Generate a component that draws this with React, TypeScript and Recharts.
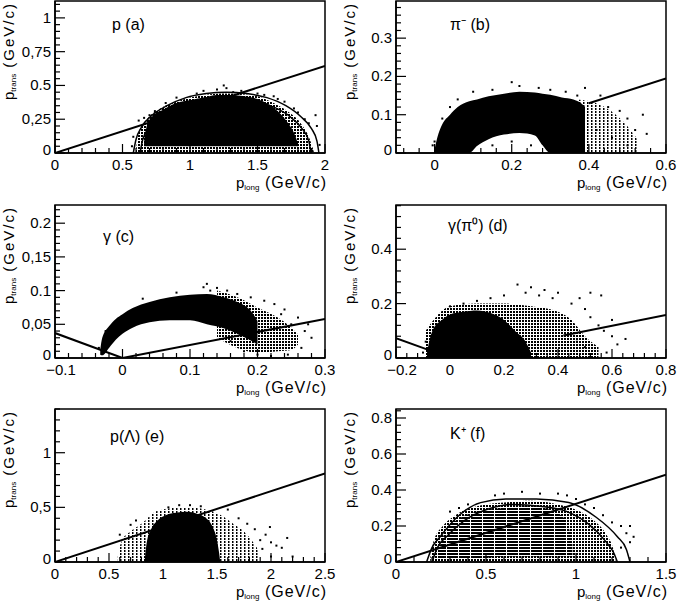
import React from "react";
import {
  ComposedChart,
  XAxis,
  YAxis,
  Area,
  Line,
  Scatter,
  ReferenceArea,
} from "recharts";

type Pt = [number, number];
type Band = [number, number, number]; // x, low, high

// ---------- (a) p
const aXMajor = [0, 0.5, 1, 1.5, 2];
const aXLabels = ["0", "0.5", "1", "1.5", "2"];
const aYMajor = [0, 0.25, 0.5, 0.75, 1];
const aYLabels = ["0", "0,25", "0.5", "0,75", "1"];
const aCore: Band[] = [
  [0.66, 0.05, 0.08], [0.68, 0.05, 0.2], [0.72, 0.05, 0.27], [0.8, 0.05, 0.32],
  [0.9, 0.05, 0.37], [1.0, 0.05, 0.39], [1.1, 0.05, 0.41], [1.2, 0.05, 0.43],
  [1.3, 0.05, 0.43], [1.4, 0.05, 0.42], [1.5, 0.05, 0.4], [1.58, 0.05, 0.36],
  [1.66, 0.05, 0.3], [1.72, 0.05, 0.23], [1.77, 0.05, 0.15], [1.8, 0.05, 0.07],
];
const aHatch: Band[] = [
  [0.6, 0, 0.02], [0.62, 0, 0.15], [0.68, 0, 0.25], [0.78, 0, 0.33],
  [0.9, 0, 0.38], [1.05, 0, 0.42], [1.25, 0, 0.44], [1.45, 0, 0.43],
  [1.6, 0, 0.38], [1.72, 0, 0.31], [1.82, 0, 0.22], [1.88, 0, 0.12], [1.92, 0, 0],
];
const aDots: Pt[] = [
  [0.62, 0.24], [0.66, 0.26], [0.7, 0.28], [0.74, 0.31], [0.82, 0.37], [0.9, 0.41],
  [1.05, 0.44], [1.1, 0.46], [1.2, 0.47], [1.25, 0.5], [1.27, 0.48], [1.32, 0.45],
  [1.38, 0.46], [1.5, 0.44], [1.55, 0.43], [1.62, 0.42], [1.65, 0.4], [1.7, 0.38],
  [1.77, 0.33], [1.8, 0.3], [1.85, 0.25], [1.88, 0.22], [1.93, 0.28], [1.94, 0.2],
  [1.96, 0.06], [1.9, 0.03], [0.57, 0.05], [0.58, 0.12],
];
const aCut: Pt[] = [[0, 0], [2, 0.645]];
const aRingOuter: Pt[] = [
  [0.58, 0], [0.6, 0.1], [0.64, 0.19], [0.72, 0.28], [0.83, 0.35], [0.97, 0.41],
  [1.12, 0.44], [1.27, 0.45], [1.42, 0.44], [1.57, 0.41], [1.71, 0.35], [1.82, 0.27],
  [1.9, 0.18], [1.94, 0.09], [1.955, 0],
];
const aRingInner: Pt[] = [
  [0.63, 0], [0.65, 0.1], [0.7, 0.19], [0.78, 0.27], [0.9, 0.34], [1.05, 0.39],
  [1.26, 0.41], [1.46, 0.39], [1.62, 0.34], [1.74, 0.27], [1.83, 0.18], [1.88, 0.09],
  [1.895, 0],
];

// ---------- (b) pi-
const bXMajor = [0, 0.2, 0.4, 0.6];
const bXLabels = ["0", "0.2", "0.4", "0.6"];
const bYMajor = [0, 0.1, 0.2, 0.3];
const bYLabels = ["0", "0.1", "0.2", "0.3"];
const bCore: Band[] = [
  [0.0, 0, 0.01], [0.01, 0, 0.05], [0.02, 0, 0.075], [0.04, 0, 0.1], [0.06, 0, 0.12],
  [0.09, 0, 0.135], [0.11, 0.018, 0.14], [0.14, 0.036, 0.148], [0.18, 0.048, 0.155],
  [0.22, 0.052, 0.16], [0.26, 0.046, 0.158], [0.28, 0.02, 0.155], [0.3, 0, 0.152],
  [0.33, 0, 0.145], [0.36, 0, 0.14], [0.38, 0, 0.13], [0.39, 0, 0.12],
];
const bHatch: Band[] = [
  [0.37, 0, 0.14], [0.42, 0, 0.13], [0.47, 0, 0.1], [0.5, 0, 0.07], [0.53, 0, 0.03],
];
const bDots: Pt[] = [
  [0.0, 0.03], [-0.005, 0.02], [0.02, 0.09], [0.04, 0.12], [0.06, 0.14], [0.1, 0.16],
  [0.15, 0.165], [0.2, 0.185], [0.22, 0.175], [0.27, 0.17], [0.3, 0.165], [0.34, 0.16],
  [0.37, 0.15], [0.39, 0.17], [0.43, 0.15], [0.45, 0.12], [0.48, 0.11], [0.5, 0.09],
  [0.52, 0.06], [0.55, 0.05], [0.5, 0.02], [0.46, 0.04], [0.42, 0.06], [0.54, 0.1],
  [0.15, 0.02], [0.2, 0.03], [0.25, 0.02],
];
const bCut: Pt[] = [[0.4, 0.13], [0.6, 0.195]];

// ---------- (c) gamma
const cXMajor = [-0.1, 0, 0.1, 0.2, 0.3];
const cXLabels = ["\u22120.1", "0", "0.1", "0.2", "0.3"];
const cYMajor = [0, 0.05, 0.1, 0.15, 0.2];
const cYLabels = ["0", "0,05", "0.1", "0,15", "0.2"];
const cCore: Band[] = [
  [-0.033, 0.005, 0.012], [-0.03, 0.004, 0.03], [-0.02, 0.015, 0.047],
  [-0.01, 0.027, 0.058], [0.0, 0.036, 0.065], [0.015, 0.045, 0.074],
  [0.04, 0.053, 0.083], [0.07, 0.056, 0.09], [0.1, 0.056, 0.094],
  [0.125, 0.05, 0.095], [0.15, 0.044, 0.09], [0.17, 0.036, 0.083],
  [0.19, 0.026, 0.07], [0.2, 0.02, 0.055],
];
const cHatch: Band[] = [
  [0.14, 0.03, 0.1], [0.17, 0.015, 0.09], [0.2, 0.008, 0.075], [0.23, 0.01, 0.06],
  [0.25, 0.012, 0.045], [0.26, 0.02, 0.035],
];
const cDots: Pt[] = [
  [0.12, 0.105], [0.125, 0.11], [0.13, 0.1], [0.14, 0.104], [0.155, 0.1], [0.17, 0.095],
  [0.19, 0.09], [0.21, 0.085], [0.225, 0.08], [0.24, 0.072], [0.26, 0.06], [0.27, 0.04],
  [0.28, 0.03], [0.265, 0.015], [0.245, 0.005], [0.22, 0.003], [0.2, 0.005], [0.25, 0.05],
  [0.235, 0.065], [0.275, 0.05], [0.18, 0.01], [0.16, 0.025], [-0.035, 0.015],
  [-0.025, 0.04], [0.03, 0.088], [0.08, 0.097],
];
const cCutLeft: Pt[] = [[-0.1, 0.037], [0, 0]];
const cCutRight: Pt[] = [[0, 0], [0.3, 0.058]];

// ---------- (d) gamma(pi0)
const dXMajor = [-0.2, 0, 0.2, 0.4, 0.6, 0.8];
const dXLabels = ["\u22120.2", "0", "0.2", "0.4", "0.6", "0.8"];
const dYMajor = [0, 0.2, 0.4];
const dYLabels = ["0", "0.2", "0.4"];
const dCore: Band[] = [
  [-0.085, 0, 0.02], [-0.075, 0, 0.07], [-0.06, 0, 0.11], [-0.03, 0, 0.14], [0, 0, 0.16],
  [0.05, 0, 0.17], [0.1, 0, 0.175], [0.15, 0, 0.165], [0.2, 0, 0.14], [0.24, 0, 0.1],
  [0.28, 0, 0.06], [0.3, 0, 0.02],
];
const dHatch: Band[] = [
  [-0.09, 0, 0.1], [0, 0, 0.19], [0.1, 0, 0.2], [0.2, 0, 0.2], [0.3, 0, 0.19],
  [0.4, 0, 0.17], [0.45, 0, 0.14], [0.5, 0, 0.08], [0.55, 0, 0.04],
];
const dDots: Pt[] = [
  [0.0, 0.19], [0.05, 0.2], [0.1, 0.21], [0.15, 0.22], [0.2, 0.23], [0.25, 0.27],
  [0.28, 0.24], [0.3, 0.26], [0.33, 0.23], [0.35, 0.25], [0.38, 0.22], [0.4, 0.24],
  [0.45, 0.2], [0.48, 0.22], [0.5, 0.18], [0.52, 0.15], [0.55, 0.12], [0.57, 0.1],
  [0.6, 0.14], [0.6, 0.08], [0.62, 0.05], [0.65, 0.07], [0.52, 0.24], [0.56, 0.23],
  [0.5, 0.04], [0.47, 0.06], [-0.1, 0.02], [-0.09, 0.06], [0.58, 0.02],
];
const dCutLeft: Pt[] = [[-0.2, 0.073], [-0.07, 0.026]];
const dCutRight: Pt[] = [[0.42, 0.083], [0.8, 0.158]];

// ---------- (e) p(Lambda)
const eXMajor = [0, 0.5, 1, 1.5, 2, 2.5];
const eXLabels = ["0", "0.5", "1", "1.5", "2", "2.5"];
const eYMajor = [0, 0.5, 1];
const eYLabels = ["0", "0,5", "1"];
const eCore: Band[] = [
  [0.83, 0, 0], [0.85, 0, 0.18], [0.89, 0, 0.3], [0.95, 0, 0.38], [1.03, 0, 0.43],
  [1.12, 0, 0.45], [1.22, 0, 0.46], [1.32, 0, 0.44], [1.4, 0, 0.4], [1.46, 0, 0.32],
  [1.5, 0, 0.2], [1.52, 0, 0.08], [1.53, 0, 0],
];
const eHatch: Band[] = [
  [0.58, 0, 0.05], [0.62, 0, 0.2], [0.7, 0, 0.28], [0.8, 0, 0.35], [0.95, 0, 0.47],
  [1.2, 0, 0.5], [1.4, 0, 0.48], [1.55, 0, 0.42], [1.65, 0, 0.35], [1.75, 0, 0.28],
  [1.82, 0, 0.2], [1.88, 0, 0.1], [1.9, 0, 0],
];
const eDots: Pt[] = [
  [1.9, 0.2], [1.95, 0.25], [2.0, 0.18], [2.05, 0.15], [2.1, 0.13], [2.2, 0.05],
  [2.15, 0.22], [1.85, 0.3], [1.78, 0.35], [1.7, 0.4], [1.6, 0.48], [1.05, 0.5],
  [1.15, 0.52], [1.25, 0.52], [1.35, 0.51], [0.75, 0.38], [0.7, 0.34], [0.6, 0.25],
  [1.99, 0.32], [2.0, 0.05], [1.92, 0.12],
];
const eCut: Pt[] = [[0, 0], [2.5, 0.81]];

// ---------- (f) K+
const fXMajor = [0, 0.5, 1, 1.5];
const fXLabels = ["0", "0.5", "1", "1.5"];
const fYMajor = [0, 0.2, 0.4, 0.6, 0.8];
const fYLabels = ["0", "0.2", "0.4", "0.6", "0.8"];
const fCore: Band[] = [
  [0.24, 0.02, 0.08], [0.28, 0.02, 0.18], [0.35, 0.02, 0.24], [0.45, 0.02, 0.28],
  [0.6, 0.03, 0.3], [0.75, 0.03, 0.31], [0.88, 0.03, 0.28], [0.95, 0.03, 0.22],
  [0.98, 0.03, 0.1],
];
const fHatch: Band[] = [
  [0.19, 0, 0.02], [0.21, 0, 0.12], [0.26, 0, 0.2], [0.33, 0, 0.26], [0.45, 0, 0.31],
  [0.6, 0, 0.33], [0.75, 0, 0.34], [0.9, 0, 0.32], [1.0, 0, 0.29], [1.1, 0, 0.23],
  [1.17, 0, 0.15], [1.21, 0, 0.06], [1.22, 0, 0],
];
const fDots: Pt[] = [
  [0.55, 0.37], [0.6, 0.38], [0.7, 0.39], [0.8, 0.38], [0.9, 0.38], [0.95, 0.37],
  [1.0, 0.35], [1.1, 0.3], [1.15, 0.26], [1.2, 0.22], [1.25, 0.2], [1.28, 0.16],
  [1.3, 0.2], [1.32, 0.14], [1.3, 0.11], [1.25, 0.08], [0.4, 0.32], [0.35, 0.3],
  [0.3, 0.28], [1.05, 0.32],
];
const fCut: Pt[] = [[0, 0], [1.5, 0.485]];
const fRingOuter: Pt[] = [
  [0.17, 0], [0.2, 0.08], [0.245, 0.14], [0.34, 0.25], [0.47, 0.33], [0.61, 0.35],
  [0.78, 0.35], [0.96, 0.33], [1.11, 0.25], [1.23, 0.14], [1.28, 0.07], [1.3, 0],
];
const fRingInner: Pt[] = [
  [0.2, 0], [0.23, 0.08], [0.29, 0.15], [0.38, 0.23], [0.5, 0.29], [0.65, 0.32],
  [0.8, 0.31], [0.95, 0.28], [1.07, 0.21], [1.16, 0.12], [1.21, 0.05], [1.23, 0],
];

const FONT = "'Liberation Sans', Arial, Helvetica, sans-serif";
const Y_AXIS_W = 40;
const X_AXIS_H = 30;

const COLS = [
  { left: 0, plotL: 55, plotR: 325 },
  { left: 339, plotL: 396, plotR: 666 },
];
const ROWS = [
  { top: 0, h: 200, plotT: 1, plotB: 153 },
  { top: 200, h: 200, plotT: 205, plotB: 358 },
  { top: 400, h: 202, plotT: 409, plotB: 562 },
];

type HatchKind = "light" | "medium" | "dense";

type PanelDef = {
  id: string;
  col: number;
  row: number;
  xDomain: [number, number];
  yDomain: [number, number];
  xMajor: number[];
  xLabels: string[];
  yMajor: number[];
  yLabels: string[];
  core: Band[];
  coreFill: "solid" | HatchKind;
  hatch: Band[];
  hatchKind: HatchKind;
  dots: Pt[];
  cuts: Pt[][];
  rings: Pt[][];
  title: string;
  titleX: number;
  titleY: number;
};

const panels: PanelDef[] = [
  {
    id: "a", col: 0, row: 0, xDomain: [0, 2], yDomain: [0, 1.125],
    xMajor: aXMajor, xLabels: aXLabels, yMajor: aYMajor, yLabels: aYLabels,
    core: aCore, coreFill: "solid", hatch: aHatch, hatchKind: "medium", dots: aDots,
    cuts: [aCut], rings: [aRingOuter, aRingInner], title: "p (a)", titleX: 112, titleY: 30,
  },
  {
    id: "b", col: 1, row: 0, xDomain: [-0.1, 0.6], yDomain: [0, 0.397],
    xMajor: bXMajor, xLabels: bXLabels, yMajor: bYMajor, yLabels: bYLabels,
    core: bCore, coreFill: "solid", hatch: bHatch, hatchKind: "light", dots: bDots,
    cuts: [bCut], rings: [], title: "\u03c0\u207b (b)", titleX: 111, titleY: 30,
  },
  {
    id: "c", col: 0, row: 1, xDomain: [-0.1, 0.3], yDomain: [0, 0.227],
    xMajor: cXMajor, xLabels: cXLabels, yMajor: cYMajor, yLabels: cYLabels,
    core: cCore, coreFill: "solid", hatch: cHatch, hatchKind: "medium", dots: cDots,
    cuts: [cCutLeft, cCutRight], rings: [], title: "\u03b3 (c)", titleX: 103, titleY: 42,
  },
  {
    id: "d", col: 1, row: 1, xDomain: [-0.2, 0.8], yDomain: [0, 0.5625],
    xMajor: dXMajor, xLabels: dXLabels, yMajor: dYMajor, yLabels: dYLabels,
    core: dCore, coreFill: "solid", hatch: dHatch, hatchKind: "medium", dots: dDots,
    cuts: [dCutLeft, dCutRight], rings: [], title: "\u03b3(\u03c0\u2070) (d)", titleX: 109, titleY: 31,
  },
  {
    id: "e", col: 0, row: 2, xDomain: [0, 2.5], yDomain: [0, 1.4],
    xMajor: eXMajor, xLabels: eXLabels, yMajor: eYMajor, yLabels: eYLabels,
    core: eCore, coreFill: "solid", hatch: eHatch, hatchKind: "light", dots: eDots,
    cuts: [eCut], rings: [], title: "p(\u039b) (e)", titleX: 110, titleY: 42,
  },
  {
    id: "f", col: 1, row: 2, xDomain: [0, 1.5], yDomain: [0, 0.85],
    xMajor: fXMajor, xLabels: fXLabels, yMajor: fYMajor, yLabels: fYLabels,
    core: fCore, coreFill: "dense", hatch: fHatch, hatchKind: "medium", dots: fDots,
    cuts: [fCut], rings: [fRingOuter, fRingInner], title: "K\u207a (f)", titleX: 111, titleY: 39,
  },
];

// five minor divisions per major step, axis decoration only
function withMinor(major: number[], domain: [number, number]): number[] {
  const step = (major[1] - major[0]) / 5;
  const out: number[] = [];
  const first = major[0];
  let k = Math.ceil((domain[0] - first) / step - 1e-6);
  while (true) {
    const v = Math.round((first + k * step) * 1e6) / 1e6;
    if (v > domain[1] + 1e-9) break;
    out.push(v);
    k += 1;
  }
  return out;
}

const isMajor = (major: number[], v: number) =>
  major.findIndex((m) => Math.abs(m - v) < 1e-6);

const Dot = (p: any) => (
  <rect x={p.cx - 1} y={p.cy - 1} width={2} height={2} fill="#000" />
);

function Patterns({ id }: { id: string }) {
  return (
    <defs>
      <pattern id={`light-${id}`} width={4} height={3} patternUnits="userSpaceOnUse">
        <rect x={0} y={0} width={1.5} height={2} fill="#000" />
      </pattern>
      <pattern id={`medium-${id}`} width={3} height={3} patternUnits="userSpaceOnUse">
        <rect x={0} y={0} width={2} height={2} fill="#000" />
      </pattern>
      <pattern id={`dense-${id}`} width={4} height={3} patternUnits="userSpaceOnUse">
        <rect x={0} y={0} width={3} height={2} fill="#000" />
      </pattern>
    </defs>
  );
}

function Panel({ p }: { p: PanelDef }) {
  const c = COLS[p.col];
  const r = ROWS[p.row];
  const W = 339;
  const margin = {
    top: r.plotT - r.top,
    bottom: r.top + r.h - r.plotB - X_AXIS_H,
    left: c.plotL - c.left - Y_AXIS_W,
    right: c.left + W - c.plotR,
  };
  const pl = c.plotL - c.left;
  const pr = c.plotR - c.left;
  const pt = r.plotT - r.top;
  const pb = r.plotB - r.top;

  const xTicks = withMinor(p.xMajor, p.xDomain);
  const yTicks = withMinor(p.yMajor, p.yDomain);

  const xTick = (t: any) => {
    const i = isMajor(p.xMajor, t.payload.value);
    // a negative label at the left edge sits a little to the right
    const shift = i === 0 && p.xMajor[0] < 0 ? 6 : 0;
    return (
      <g>
        <line x1={t.x} x2={t.x} y1={t.y} y2={t.y - (i >= 0 ? 9 : 5)} stroke="#000" strokeWidth={1.2} />
        {i >= 0 && (
          <text x={t.x + shift} y={t.y + 17} textAnchor="middle" fontSize={15} fontFamily={FONT} fill="#000">
            {p.xLabels[i]}
          </text>
        )}
      </g>
    );
  };
  const yTick = (t: any) => {
    const i = isMajor(p.yMajor, t.payload.value);
    const lift = i === 0 ? 3 : 0;
    return (
      <g>
        <line x1={t.x} x2={t.x + (i >= 0 ? 10 : 5)} y1={t.y} y2={t.y} stroke="#000" strokeWidth={1.2} />
        {i >= 0 && (
          <text x={t.x - 4} y={t.y + 5 - lift} textAnchor="end" fontSize={15} fontFamily={FONT} fill="#000">
            {p.yLabels[i]}
          </text>
        )}
      </g>
    );
  };

  const band = (rows: Band[]) => rows.map(([x, lo, hi]) => ({ x, r: [lo, hi] }));
  const pts = (rows: Pt[]) => rows.map(([x, y]) => ({ x, y }));
  const coreFill = p.coreFill === "solid" ? "#000" : `url(#${p.coreFill}-${p.id})`;

  return (
    <div style={{ position: "absolute", left: c.left, top: r.top, width: W, height: r.h }}>
      <ComposedChart width={W} height={r.h} margin={margin}>
        <Patterns id={p.id} />
        <XAxis
          type="number"
          dataKey="x"
          domain={p.xDomain}
          allowDataOverflow
          ticks={xTicks}
          interval={0}
          tickSize={0}
          tickMargin={0}
          tickLine={false}
          axisLine={{ stroke: "#000", strokeWidth: 1.5 }}
          height={X_AXIS_H}
          tick={xTick}
        />
        <YAxis
          type="number"
          dataKey="y"
          domain={p.yDomain}
          allowDataOverflow
          ticks={yTicks}
          interval={0}
          tickSize={0}
          tickMargin={0}
          tickLine={false}
          axisLine={{ stroke: "#000", strokeWidth: 1.5 }}
          width={Y_AXIS_W}
          tick={yTick}
        />
        <Area
          data={band(p.hatch)}
          dataKey="r"
          type="monotone"
          stroke="none"
          fill={`url(#${p.hatchKind}-${p.id})`}
          fillOpacity={1}
          isAnimationActive={false}
        />
        <Area
          data={band(p.core)}
          dataKey="r"
          type="monotone"
          stroke="none"
          fill={coreFill}
          fillOpacity={1}
          isAnimationActive={false}
        />
        <Scatter data={pts(p.dots)} dataKey="y" shape={Dot} isAnimationActive={false} />
        {p.cuts.map((seg, i) => (
          <Line
            key={`cut${i}`}
            data={pts(seg)}
            dataKey="y"
            type="linear"
            stroke="#000"
            strokeWidth={2}
            dot={false}
            isAnimationActive={false}
          />
        ))}
        {p.rings.map((ring, i) => (
          <Line
            key={`ring${i}`}
            data={pts(ring)}
            dataKey="y"
            type="monotone"
            stroke="#000"
            strokeWidth={1.5}
            dot={false}
            isAnimationActive={false}
          />
        ))}
        <ReferenceArea
          x1={p.xDomain[0]}
          x2={p.xDomain[1]}
          y1={p.yDomain[0]}
          y2={p.yDomain[1]}
          fill="none"
          stroke="#000"
          strokeWidth={1.5}
          ifOverflow="visible"
        />
      </ComposedChart>
      <svg
        width={W}
        height={r.h}
        style={{ position: "absolute", left: 0, top: 0, pointerEvents: "none" }}
        fontFamily={FONT}
      >
        <text x={p.titleX} y={p.titleY} fontSize={16} fill="#000">
          {p.title}
        </text>
        <text
          transform={`translate(${pl - 41}, ${pt + 1}) rotate(-90)`}
          textAnchor="end"
          fontSize={15}
          fill="#000"
        >
          p<tspan fontSize={8} dy={2}>trans</tspan>
          <tspan dy={-2} letterSpacing={2}> (GeV/c)</tspan>
        </text>
        <text x={pr + 2} y={pb + 35} textAnchor="end" fontSize={15} fill="#000">
          p<tspan fontSize={8} dy={2}>long</tspan>
          <tspan dy={-2} fontSize={16} letterSpacing={1}> (GeV/c)</tspan>
        </text>
      </svg>
    </div>
  );
}

export default function App() {
  return (
    <div
      style={{
        position: "absolute",
        left: 0,
        top: 0,
        width: 678,
        height: 602,
        background: "#fff",
        fontFamily: FONT,
      }}
    >
      {panels.map((p) => (
        <Panel key={p.id} p={p} />
      ))}
    </div>
  );
}
